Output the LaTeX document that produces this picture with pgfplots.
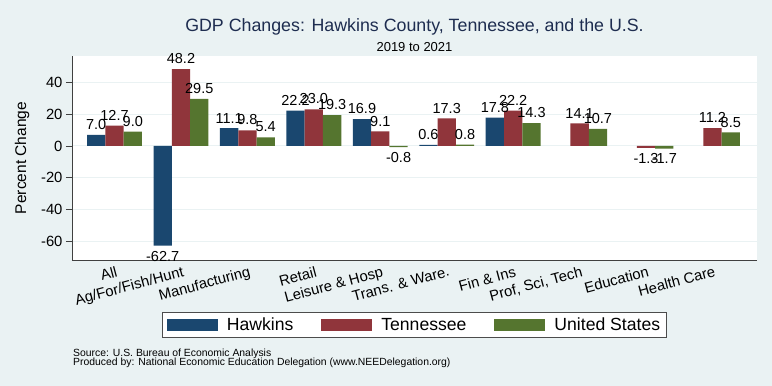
\documentclass[border=0pt]{standalone}
\usepackage{pgfplots}
\pgfplotsset{compat=1.18}
\usepackage{pgfplotstable}
\usepackage{fontspec}
\setmainfont{Liberation Sans}
\definecolor{bg}{HTML}{EAF2F3}
\definecolor{snavy}{HTML}{1A476F}
\definecolor{smaroon}{HTML}{90353B}
\definecolor{sgreen}{HTML}{55752F}
\definecolor{ttl}{RGB}{30,45,80}

\pgfplotstableread{
x H T U
0 7.0 12.7 9.0
1 -62.7 48.2 29.5
2 11.1 9.8 5.4
3 22.2 23.0 19.3
4 16.9 9.1 -0.8
5 0.6 17.3 0.8
6 17.8 22.2 14.3
7 nan 14.1 10.7
8 nan -1.3 -1.7
9 nan 11.2 8.5
}\gdp

\pgfplotsset{
  leg/.style={legend image code/.code={\fill[##1] (0pt,-6.35pt) rectangle (51pt,6.35pt);}}
}

\begin{document}
\begin{tikzpicture}[x=1pt,y=1pt]
\fill[bg] (0,0) rectangle (772,386);
\useasboundingbox (0,0) rectangle (772,386);
\begin{axis}[
  at={(72pt,126pt)}, anchor=south west,
  scale only axis, width=685pt, height=204pt,
  xmin=-0.64, xmax=9.67, ymin=-71.7, ymax=56.5,
  ybar=0pt, bar width=18.3pt,
  axis lines*=left,
  axis line style={black!75, line width=0.8pt},
  axis background/.style={fill=white},
  ymajorgrids, grid style={bg, line width=1pt},
  ytick={-60,-40,...,40},
  tick align=outside, major tick length=6pt,
  ytick style={black!75, line width=0.8pt},
  xtick={0,...,9}, major x tick style={draw=none},
  xticklabels={All, Ag/For/Fish/Hunt, Manufacturing, Retail, Leisure \& Hosp, Trans. \& Ware., Fin \& Ins, {Prof, Sci, Tech}, Education, Health Care},
  /pgf/number format/assume math mode=true,
  tick label style={font=\fontsize{14.8}{16}\selectfont},
  xticklabel style={rotate=15, anchor=north east, inner sep=0pt, xshift=1pt},
  ylabel={Percent Change},
  every axis y label/.style={at={(axis description cs:-0.073,0.5)}, rotate=90, anchor=center, font=\fontsize{15.5}{17}\selectfont},
  nodes near coords={\pgfmathprintnumber[fixed,fixed zerofill,precision=1,assume math mode=true]{\pgfplotspointmeta}},
  every node near coord/.append style={font=\fontsize{14.5}{16}\selectfont, inner sep=5pt, text=black},
  legend columns=3,
  legend style={at={(0.5,-0.3186)}, anchor=center, draw=black!70, line width=0.9pt, fill=white,
    inner xsep=4.5pt, inner ysep=3.5pt, font=\fontsize{17.6}{20}\selectfont,
    /tikz/every even column/.append style={column sep=26pt},
    /tikz/every odd column/.append style={column sep=7pt}},
  legend cell align=left,
]
\addplot[fill=snavy, draw=none, leg] table[x=x, y=H] {\gdp};
\addplot[fill=smaroon, draw=none, leg] table[x=x, y=T] {\gdp};
\addplot[fill=sgreen, draw=none, leg] table[x=x, y=U] {\gdp};
\legend{Hawkins, Tennessee, United States\hspace{10pt}}
\end{axis}
\node[anchor=base, text=ttl, font=\fontsize{17.8}{20}\selectfont] at (414.5,354.8) {GDP Changes: Hawkins County, Tennessee, and the U.S.};
\node[anchor=base, font=\fontsize{13}{15}\selectfont] at (414.5,334.5) {2019 to 2021};
\node[anchor=base west, inner sep=0pt, font=\fontsize{10.4}{12}\selectfont] at (73,30) {Source: U.S. Bureau of Economic Analysis};
\node[anchor=base west, inner sep=0pt, font=\fontsize{10.4}{12}\selectfont] at (73,20.5) {Produced by: National Economic Education Delegation (www.NEEDelegation.org)};
\end{tikzpicture}
\end{document}
